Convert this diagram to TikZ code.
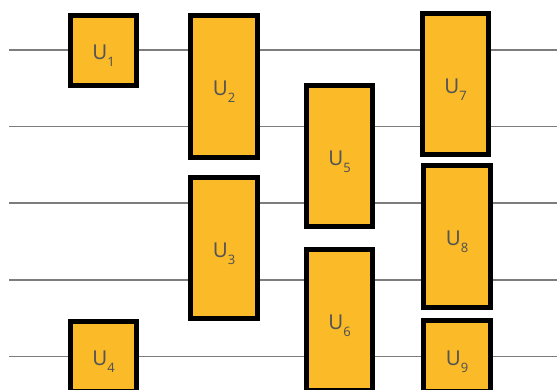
\documentclass[tikz,border=0pt]{standalone}
\usepackage{fontspec}
\setmainfont{Noto Sans}
\usetikzlibrary{positioning}
\definecolor{gatefill}{RGB}{251,186,39}
\definecolor{wiregray}{RGB}{125,125,125}
\definecolor{labelgray}{RGB}{85,85,85}
\newcommand{\ulab}[1]{U\raisebox{-0.34em}{\fontsize{13}{13}\selectfont #1}}

\begin{document}
\begin{tikzpicture}[x=1pt, y=-1pt,
  gatebox/.style={rectangle, draw=black, line width=5pt, fill=gatefill, inner sep=0pt, minimum width=66pt, text=labelgray, text height=19pt, text depth=0pt, font=\fontsize{20.5}{24}\selectfont},
  wire/.style={wiregray, line width=1.4pt}]
\useasboundingbox (0,0) rectangle (557,390);
% wires
\foreach \i/\y in {1/50,2/126.5,3/203,4/280,5/356.5} {
  \coordinate (in\i) at (9,\y);
  \coordinate (out\i) at (557,\y);
  \draw[wire] (in\i)--(out\i);
}
% gates
\node[gatebox, minimum height=70pt] (u1) at (103.5,50.5) {\ulab{1}};
\node[gatebox, minimum width=67pt, minimum height=142pt] (u2) at (224,86.5) {\ulab{2}};
\node[gatebox, minimum width=67pt, minimum height=141pt] (u3) at (224,248) {\ulab{3}};
\node[gatebox, minimum height=70pt] (u4) at (103.5,356) {\ulab{4}};
\node[gatebox, minimum height=141pt] (u5) at (339.5,156) {\ulab{5}};
\node[gatebox, minimum height=141pt] (u6) at (339.5,320) {\ulab{6}};
\node[gatebox, minimum height=141pt] (u7) at (455.5,84) {\ulab{7}};
\node[gatebox, minimum width=67pt, minimum height=142pt] (u8) at (457,236.5) {\ulab{8}};
\node[gatebox, minimum width=67pt, minimum height=71pt] (u9) at (457,356) {\ulab{9}};
\end{tikzpicture}
\end{document}
